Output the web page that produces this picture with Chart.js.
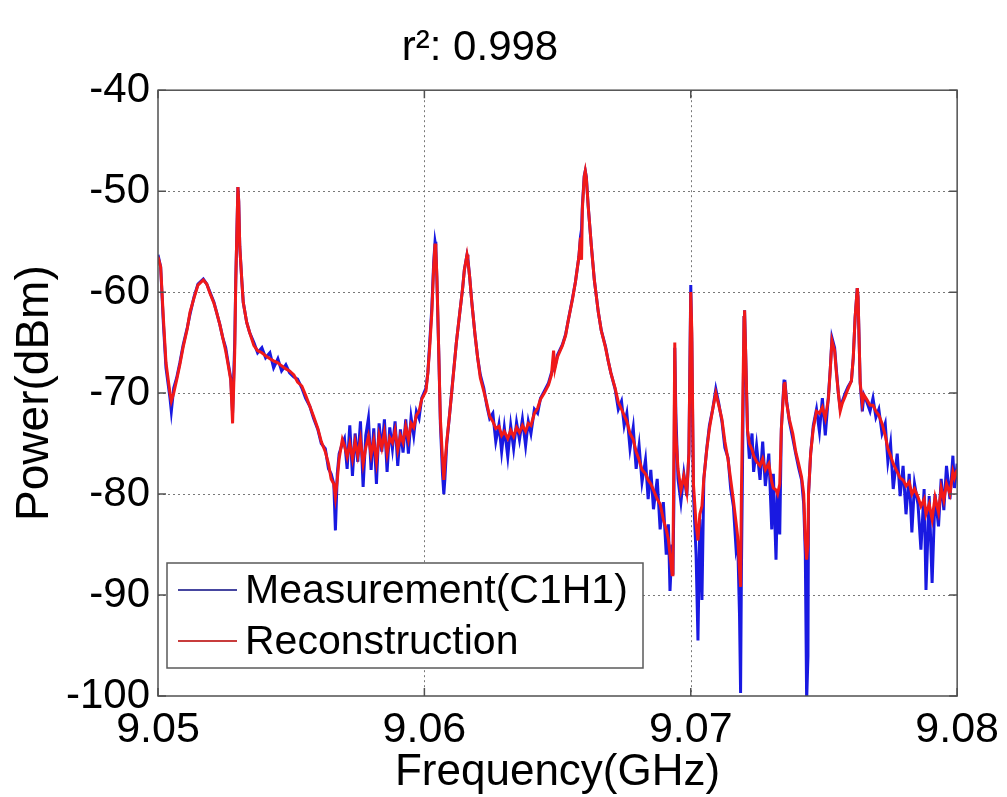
<!DOCTYPE html>
<html>
<head>
<meta charset="utf-8">
<title>r2 0.998</title>
<script src="https://cdn.jsdelivr.net/npm/chart.js@4.4.1/dist/chart.umd.min.js"></script>
<style>
  html, body { margin: 0; padding: 0; background: #fff; }
  #chart { display: block; }
</style>
</head>
<body>
<canvas id="chart" width="1007" height="797"></canvas>
<script>
// frequency in GHz, power in dBm
const freqs = [
  9.05000, 9.05010, 9.05020, 9.05030, 9.05045, 9.05050, 9.05059, 9.05070, 9.05082, 9.05094,
  9.05110, 9.05120, 9.05135, 9.05150, 9.05170, 9.05183, 9.05195, 9.05210, 9.05220, 9.05232,
  9.05243, 9.05254, 9.05262, 9.05273, 9.05280, 9.05288, 9.05292, 9.05300, 9.05303, 9.05307,
  9.05315, 9.05320, 9.05333, 9.05344, 9.05360, 9.05374, 9.05390, 9.05404, 9.05420, 9.05434,
  9.05450, 9.05464, 9.05480, 9.05494, 9.05510, 9.05524, 9.05540, 9.05554, 9.05570, 9.05584,
  9.05600, 9.05613, 9.05628, 9.05640, 9.05650, 9.05660, 9.05666, 9.05673, 9.05680, 9.05692,
  9.05700, 9.05710, 9.05720, 9.05730, 9.05740, 9.05750, 9.05760, 9.05770, 9.05780, 9.05790,
  9.05800, 9.05810, 9.05820, 9.05830, 9.05840, 9.05850, 9.05860, 9.05870, 9.05880, 9.05890,
  9.05900, 9.05910, 9.05920, 9.05930, 9.05940, 9.05950, 9.05960, 9.05970, 9.05980, 9.05990,
  9.06006, 9.06013, 9.06020, 9.06028, 9.06035, 9.06040, 9.06043, 9.06047, 9.06054, 9.06060,
  9.06068, 9.06073, 9.06077, 9.06084, 9.06095, 9.06107, 9.06120, 9.06133, 9.06144, 9.06150,
  9.06160, 9.06163, 9.06170, 9.06178, 9.06190, 9.06200, 9.06210, 9.06223, 9.06234, 9.06245,
  9.06257, 9.06268, 9.06280, 9.06290, 9.06300, 9.06313, 9.06324, 9.06335, 9.06346, 9.06357,
  9.06368, 9.06380, 9.06390, 9.06400, 9.06413, 9.06425, 9.06436, 9.06450, 9.06466, 9.06477,
  9.06485, 9.06490, 9.06500, 9.06518, 9.06530, 9.06540, 9.06556, 9.06567, 9.06580, 9.06586,
  9.06590, 9.06593, 9.06600, 9.06604, 9.06608, 9.06615, 9.06627, 9.06638, 9.06653, 9.06664,
  9.06680, 9.06690, 9.06700, 9.06716, 9.06728, 9.06740, 9.06750, 9.06760, 9.06772, 9.06784,
  9.06795, 9.06806, 9.06817, 9.06830, 9.06840, 9.06850, 9.06860, 9.06874, 9.06885, 9.06897,
  9.06908, 9.06916, 9.06922, 9.06930, 9.06933, 9.06937, 9.06940, 9.06944, 9.06952, 9.06963,
  9.06974, 9.06985, 9.06993, 9.07000, 9.07004, 9.07010, 9.07020, 9.07027, 9.07034, 9.07042,
  9.07049, 9.07060, 9.07070, 9.07083, 9.07094, 9.07105, 9.07117, 9.07128, 9.07140, 9.07150,
  9.07160, 9.07170, 9.07176, 9.07183, 9.07187, 9.07190, 9.07200, 9.07202, 9.07206, 9.07213,
  9.07220, 9.07230, 9.07236, 9.07247, 9.07260, 9.07270, 9.07280, 9.07293, 9.07304, 9.07310,
  9.07320, 9.07326, 9.07334, 9.07340, 9.07350, 9.07353, 9.07360, 9.07370, 9.07383, 9.07394,
  9.07405, 9.07416, 9.07424, 9.07430, 9.07435, 9.07440, 9.07442, 9.07450, 9.07460, 9.07472,
  9.07483, 9.07494, 9.07505, 9.07517, 9.07524, 9.07530, 9.07540, 9.07546, 9.07554, 9.07561,
  9.07569, 9.07580, 9.07590, 9.07603, 9.07610, 9.07617, 9.07625, 9.07628, 9.07636, 9.07644,
  9.07650, 9.07660, 9.07673, 9.07684, 9.07695, 9.07706, 9.07718, 9.07730, 9.07740, 9.07750,
  9.07760, 9.07775, 9.07786, 9.07797, 9.07808, 9.07820, 9.07830, 9.07840, 9.07853, 9.07864,
  9.07876, 9.07883, 9.07895, 9.07906, 9.07917, 9.07930, 9.07940, 9.07950, 9.07960, 9.07973,
  9.07984, 9.07990, 9.08000
];

const measured = [
  -56.3, -57.5, -63.0, -67.5, -70.5, -71.8, -69.5, -68.5, -67.0, -65.3,
  -63.5, -62.2, -60.5, -59.2, -58.7, -59.2, -60.0, -61.0, -62.0, -63.2,
  -64.5, -65.5, -66.8, -68.5, -72.0, -65.0, -58.8, -49.6, -51.0, -55.5,
  -59.0, -61.0, -63.0, -64.0, -65.0, -66.0, -65.5, -66.5, -66.0, -67.5,
  -66.6, -67.8, -67.2, -68.0, -68.4, -68.6, -69.5, -70.5, -71.3, -72.5,
  -73.6, -75.0, -75.5, -77.5, -78.0, -79.0, -83.6, -78.0, -76.0, -75.0,
  -74.5, -77.5, -73.2, -78.2, -74.0, -76.8, -72.8, -79.3, -74.2, -72.5,
  -77.6, -73.5, -79.0, -73.0, -75.8, -72.6, -77.8, -73.4, -75.5, -72.8,
  -77.2, -73.6, -75.9, -72.6, -76.0, -72.4, -74.2, -71.8, -72.5, -70.5,
  -69.5, -68.0, -65.0, -61.5, -57.0, -55.0, -55.5, -58.8, -66.0, -73.0,
  -78.0, -80.0, -78.5, -75.0, -72.0, -68.6, -65.0, -62.0, -59.5, -57.8,
  -56.3, -56.6, -58.5, -61.0, -64.2, -66.5, -68.2, -69.5, -71.2, -72.5,
  -72.0, -74.8, -73.1, -75.8, -73.4, -76.3, -73.2, -75.5, -72.9, -74.6,
  -72.6, -75.2, -72.8, -74.0, -71.6, -72.0, -70.5, -69.8, -69.0, -68.0,
  -67.6, -67.4, -66.2, -65.2, -64.2, -62.8, -60.6, -59.0, -56.5, -54.5,
  -53.8, -51.5, -48.5, -48.0, -48.6, -51.5, -55.5, -58.8, -62.0, -63.8,
  -65.4, -66.8, -68.0, -69.6, -71.6, -70.8, -73.2, -72.0, -75.5, -73.4,
  -77.5, -75.2, -78.8, -76.6, -80.5, -77.6, -81.5, -78.5, -83.5, -80.8,
  -86.0, -83.0, -89.6, -85.0, -88.0, -80.0, -65.5, -72.0, -78.5, -80.8,
  -78.0, -80.2, -76.0, -59.3, -65.0, -80.0, -86.0, -94.5, -82.5, -90.5,
  -78.5, -75.5, -73.2, -71.5, -69.6, -71.0, -72.8, -75.4, -76.4, -79.5,
  -81.2, -85.4, -84.5, -92.0, -99.7, -88.0, -62.5, -61.8, -66.0, -73.7,
  -76.5, -74.0, -77.8, -75.2, -78.6, -74.8, -79.2, -76.0, -83.5, -78.0,
  -86.5, -79.5, -84.0, -73.5, -68.8, -68.7, -70.8, -72.8, -74.5, -76.0,
  -77.4, -78.6, -81.0, -86.0, -100.5, -96.0, -80.0, -76.0, -73.2, -71.6,
  -73.8, -70.5, -74.2, -70.2, -67.5, -64.5, -65.5, -67.5, -70.0, -71.5,
  -70.8, -70.0, -69.4, -68.8, -66.5, -62.5, -59.6, -60.5, -69.0, -71.8,
  -70.2, -70.8, -71.8, -70.5, -72.4, -71.6, -74.0, -73.0, -76.8, -75.0,
  -79.5, -76.0, -80.2, -77.2, -82.0, -78.0, -83.8, -79.0, -81.0, -85.5,
  -79.5, -89.5, -80.2, -88.8, -80.0, -83.2, -78.5, -81.6, -77.2, -80.5,
  -76.2, -79.4, -77.0
];

const reconstructed = [
  -56.5, -57.5, -62.5, -67.0, -70.0, -70.8, -70.0, -68.7, -67.2, -65.5,
  -63.6, -62.0, -60.6, -59.3, -58.8, -59.2, -60.1, -61.1, -62.0, -63.2,
  -64.5, -65.8, -67.0, -68.7, -73.0, -66.0, -58.8, -49.6, -51.0, -55.5,
  -59.0, -61.0, -63.0, -64.0, -65.3, -65.8, -66.0, -66.3, -66.6, -66.8,
  -67.0, -67.3, -67.6, -67.8, -68.2, -68.9, -69.3, -70.2, -71.3, -72.3,
  -73.5, -74.8, -75.8, -77.0, -78.5, -79.0, -80.3, -78.6, -76.5, -74.6,
  -75.2, -76.3, -75.0, -76.5, -74.8, -76.2, -74.6, -77.0, -75.4, -74.3,
  -76.1, -74.7, -76.8, -74.2, -75.4, -73.9, -76.0, -74.4, -74.9, -73.7,
  -75.6, -74.2, -74.9, -73.3, -74.6, -73.0, -73.4, -72.2, -71.8, -70.6,
  -69.8, -68.0, -65.5, -62.0, -57.5, -55.2, -55.8, -58.5, -66.0, -72.5,
  -76.5, -78.6, -77.0, -74.8, -72.0, -68.7, -65.0, -62.0, -59.5, -57.8,
  -56.3, -56.8, -58.5, -61.0, -64.2, -66.5, -68.5, -69.8, -71.0, -72.3,
  -72.8, -73.5, -73.3, -74.2, -73.8, -74.5, -73.7, -74.3, -73.4, -73.9,
  -73.2, -73.8, -73.0, -73.2, -72.0, -71.5, -70.6, -70.0, -69.2, -68.2,
  -65.8, -67.6, -66.4, -65.3, -64.3, -62.8, -60.7, -59.0, -56.5, -54.6,
  -56.8, -51.8, -48.6, -48.0, -48.7, -51.5, -55.5, -58.8, -62.0, -63.8,
  -65.5, -66.8, -68.0, -69.5, -70.9, -71.6, -72.2, -72.8, -74.0, -74.6,
  -75.8, -76.6, -77.6, -78.0, -78.6, -79.0, -79.6, -80.5, -81.0, -82.5,
  -83.5, -84.5, -86.0, -88.0, -86.5, -75.0, -65.0, -74.0, -77.5, -79.6,
  -78.2, -79.8, -76.0, -60.0, -64.0, -79.0, -83.0, -84.6, -82.0, -81.2,
  -78.5, -75.6, -73.5, -71.5, -70.0, -71.2, -72.6, -74.8, -76.6, -78.6,
  -80.6, -82.8, -84.2, -87.5, -89.2, -80.0, -62.5, -61.8, -66.0, -73.7,
  -75.0, -75.6, -76.2, -76.8, -77.2, -76.5, -77.6, -77.0, -78.8, -79.4,
  -79.6, -80.0, -79.0, -73.6, -69.2, -68.9, -71.0, -72.6, -74.0, -75.8,
  -77.0, -78.3, -80.0, -84.5, -86.5, -85.0, -80.0, -76.0, -73.5, -71.8,
  -72.0, -71.4, -72.5, -70.5, -67.5, -64.8, -65.8, -67.8, -70.0, -71.8,
  -71.0, -70.3, -69.6, -68.8, -66.5, -62.5, -59.6, -60.5, -69.0, -71.0,
  -70.2, -70.6, -71.2, -71.2, -71.8, -72.2, -73.0, -74.2, -75.5, -76.2,
  -77.0, -77.8, -78.4, -78.6, -79.2, -78.8, -80.0, -79.5, -80.3, -81.2,
  -80.5, -82.0, -81.0, -82.5, -80.3, -81.8, -79.4, -80.6, -79.0, -80.0,
  -77.8, -78.4, -77.6
];

const seriesNames = ['Measurement(C1H1)', 'Reconstruction'];
const seriesColors = ['rgb(25,25,225)', 'rgb(240,25,25)'];
const legendColors = ['rgb(70,70,160)', 'rgb(200,60,60)'];
const xTicks = [9.05, 9.06, 9.07, 9.08];
const yTicks = [-100, -90, -80, -70, -60, -50, -40];

const FONT = "'Liberation Sans', Arial, Helvetica, sans-serif";

// matlab style box, dotted grid, inward ticks
const framePlugin = {
  id: 'frame',
  beforeDatasetsDraw(chart) {
    const { ctx, chartArea: a, scales: { x, y } } = chart;
    ctx.save();
    ctx.strokeStyle = 'rgb(120,120,120)';
    ctx.lineWidth = 1;
    ctx.setLineDash([2, 3]);
    xTicks.forEach(v => {
      const px = Math.round(x.getPixelForValue(v)) + 0.5;
      if (px <= a.left + 1 || px >= a.right - 1) return;
      ctx.beginPath(); ctx.moveTo(px, a.top); ctx.lineTo(px, a.bottom); ctx.stroke();
    });
    yTicks.forEach(v => {
      const py = Math.round(y.getPixelForValue(v)) + 0.5;
      if (py <= a.top + 1 || py >= a.bottom - 1) return;
      ctx.beginPath(); ctx.moveTo(a.left, py); ctx.lineTo(a.right, py); ctx.stroke();
    });
    ctx.restore();
  },
  afterDatasetsDraw(chart) {
    const { ctx, chartArea: a, scales: { x, y } } = chart;
    ctx.save();
    ctx.strokeStyle = 'rgb(80,80,80)';
    ctx.lineWidth = 1.5;
    ctx.strokeRect(a.left, a.top, a.right - a.left, a.bottom - a.top);
    const tl = 8;
    ctx.beginPath();
    xTicks.forEach(v => {
      const px = x.getPixelForValue(v);
      ctx.moveTo(px, a.bottom); ctx.lineTo(px, a.bottom - tl);
      ctx.moveTo(px, a.top); ctx.lineTo(px, a.top + tl);
    });
    yTicks.forEach(v => {
      const py = y.getPixelForValue(v);
      ctx.moveTo(a.left, py); ctx.lineTo(a.left + tl, py);
      ctx.moveTo(a.right, py); ctx.lineTo(a.right - tl, py);
    });
    ctx.stroke();

    // legend box inside the axes, lower left
    const bx = a.left + 9, by = a.bottom - 133, bw = 476, bh = 105;
    ctx.fillStyle = '#fff';
    ctx.fillRect(bx, by, bw, bh);
    ctx.strokeStyle = 'rgb(90,90,90)';
    ctx.lineWidth = 1.5;
    ctx.strokeRect(bx, by, bw, bh);
    ctx.font = '41px ' + FONT;
    ctx.textBaseline = 'middle';
    ctx.textAlign = 'left';
    chart.data.datasets.forEach((ds, i) => {
      const ly = by + 27 + i * 51;
      ctx.strokeStyle = legendColors[i];
      ctx.lineWidth = 2;
      ctx.beginPath(); ctx.moveTo(bx + 11, ly); ctx.lineTo(bx + 70, ly); ctx.stroke();
      ctx.fillStyle = '#000';
      ctx.fillText(ds.label, bx + 78, ly + 2);
    });
    ctx.restore();
  }
};

const ctx = document.getElementById('chart').getContext('2d');
const chart = new Chart(ctx, {
  type: 'line',
  data: {
    datasets: [
      {
        label: seriesNames[0],
        data: freqs.map((f, i) => ({ x: f, y: measured[i] })),
        borderColor: seriesColors[0],
        backgroundColor: seriesColors[0],
        borderWidth: 3,
        pointRadius: 0,
        tension: 0,
        order: 2
      },
      {
        label: seriesNames[1],
        data: freqs.map((f, i) => ({ x: f, y: reconstructed[i] })),
        borderColor: seriesColors[1],
        backgroundColor: seriesColors[1],
        borderWidth: 3,
        pointRadius: 0,
        tension: 0,
        order: 1
      }
    ]
  },
  options: {
    responsive: false,
    animation: false,
    devicePixelRatio: 1,
    layout: { padding: { left: 0, right: 47, top: 0, bottom: 0 } },
    plugins: {
      legend: { display: false },
      tooltip: { enabled: false },
      title: {
        display: true,
        text: 'r\u00b2: 0.998',
        color: '#000',
        font: { family: "'Liberation Sans Narrow', " + FONT, size: 42, weight: 'normal', lineHeight: 1.1 },
        padding: { top: 25, bottom: 19 }
      }
    },
    scales: {
      x: {
        type: 'linear',
        min: 9.05,
        max: 9.08,
        afterBuildTicks: s => { s.ticks = xTicks.map(v => ({ value: v })); },
        afterFit: s => { s.height = 101; },
        ticks: {
          callback: v => v.toFixed(2),
          color: '#000',
          padding: 8,
          maxRotation: 0,
          font: { family: FONT, size: 43 }
        },
        grid: { display: false, drawTicks: false },
        border: { display: false },
        title: {
          display: true,
          text: 'Frequency(GHz)',
          color: '#000',
          font: { family: FONT, size: 44, lineHeight: 1.1 },
          padding: 0
        }
      },
      y: {
        type: 'linear',
        min: -100,
        max: -40,
        afterBuildTicks: s => { s.ticks = yTicks.map(v => ({ value: v })); },
        afterFit: s => { s.width = 158; },
        ticks: {
          color: '#000',
          padding: 8,
          font: { family: FONT, size: 42 }
        },
        grid: { display: false, drawTicks: false },
        border: { display: false },
        title: {
          display: true,
          text: 'Power(dBm)',
          color: '#000',
          font: { family: FONT, size: 46, lineHeight: 1.1 },
          padding: { top: 10, bottom: 0 }
        }
      }
    }
  },
  plugins: [framePlugin]
});
</script>
</body>
</html>
